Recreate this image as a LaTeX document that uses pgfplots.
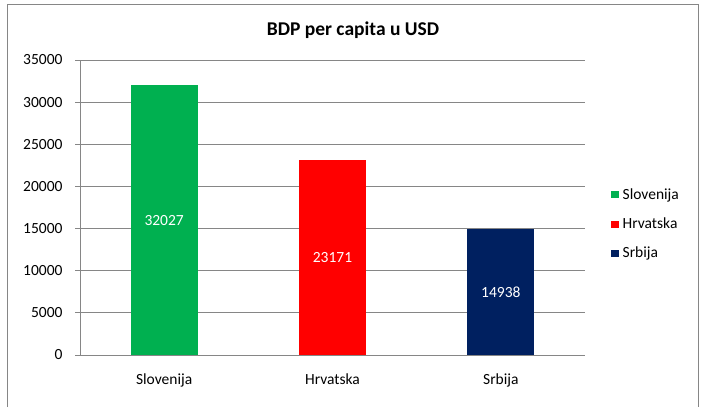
\documentclass[border=0pt]{standalone}
\usepackage{pgfplots}
\pgfplotsset{compat=1.18}
\usepackage{fontspec}
\setmainfont{Carlito}
\definecolor{cgreen}{HTML}{00B050}
\definecolor{cred}{HTML}{FF0000}
\definecolor{cnavy}{HTML}{002060}
\definecolor{cgrid}{HTML}{868686}
\begin{document}
\begin{tikzpicture}[x=1bp,y=1bp]
\useasboundingbox (0,0) rectangle (705,415);
\draw[cgrid, line width=1bp] (7,8) -- (7,410) -- (698,410) -- (698,8);
\node[font=\fontsize{19.5bp}{22bp}\selectfont\bfseries] at (353,385) {BDP per capita u USD};
\begin{axis}[
  at={(80bp,60bp)}, anchor=south west,
  width=505bp, height=295bp, scale only axis,
  xmin=-0.5, xmax=2.5, ymin=0, ymax=35000,
  ytick={0,5000,...,35000},
  scaled y ticks=false,
  yticklabel style={/pgf/number format/1000 sep={}},
  /pgf/number format/assume math mode=true,
  xtick={0,1,2}, xticklabels={Slovenija,Hrvatska,Srbija},
  extra x ticks={-0.5,0.5,1.5,2.5}, extra x tick labels={},
  extra x tick style={major tick length=5bp, tick style={draw=cgrid, line width=1bp}, grid=none},
  major x tick style={draw=none},
  tick label style={font=\fontsize{15.5bp}{18bp}\selectfont},
  ymajorgrids, grid style={cgrid, line width=1bp},
  axis line style={cgrid, line width=1bp},
  axis x line*=bottom, axis y line*=left,
  y axis line style={-}, x axis line style={-},
  ytick style={draw=cgrid, line width=1bp},
  tick align=outside, major tick length=5bp,
  yticklabel style={xshift=-9bp},
  xticklabel style={yshift=-10bp},
  ybar, bar width=67bp, bar shift=0pt,
  legend style={draw=none, at={(axis description cs:1,0.5)}, anchor=west, xshift=26bp, yshift=-16.5bp,
    font=\fontsize{15.5bp}{18bp}\selectfont, row sep=13bp, inner sep=0pt, fill=none,
    nodes={inner xsep=4bp}},
  legend cell align=left,
  legend image code/.code={\fill[#1] (0bp,-3.5bp) rectangle (7.5bp,3.5bp);},
  clip=false,
]
\addplot[fill=cgreen, draw=none] coordinates {(0,32027)};
\addplot[fill=cred, draw=none] coordinates {(1,23171)};
\addplot[fill=cnavy, draw=none] coordinates {(2,14938)};
\legend{Slovenija,Hrvatska,Srbija}
\addplot[draw=none, mark=none, forget plot, nodes near coords, point meta=explicit,
  every node near coord/.style={anchor=center, text=white, font=\fontsize{15.5bp}{18bp}\selectfont,
    /pgf/number format/1000 sep={}, /pgf/number format/assume math mode=true}]
  table[x=x, y expr=\thisrow{v}/2, meta=v] {
x v
0 32027
1 23171
2 14938
};
\end{axis}
\end{tikzpicture}
\end{document}
